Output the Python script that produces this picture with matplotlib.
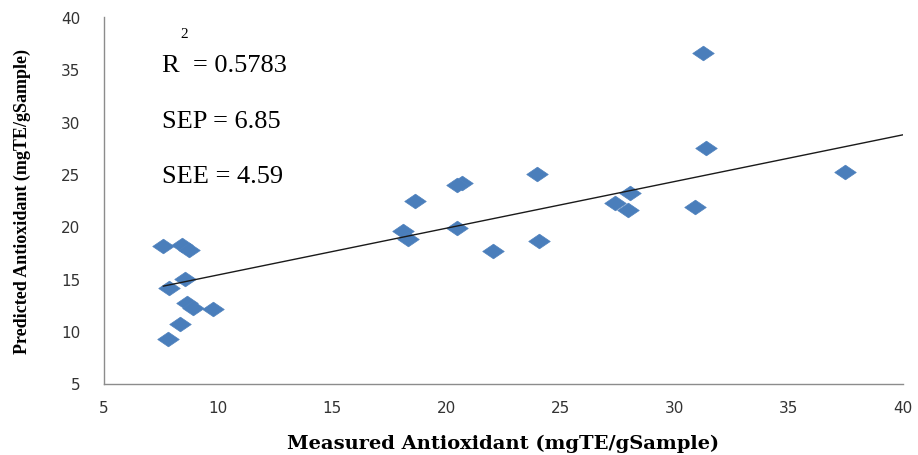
import numpy as np
import matplotlib
matplotlib.use("Agg")
import matplotlib.pyplot as plt

measured = [7.60, 8.40, 8.74, 8.55, 7.86, 8.62, 8.91, 9.79, 8.33, 7.82,
            23.95, 20.67, 20.45, 18.62, 18.11, 18.33, 20.45, 22.03, 24.07,
            31.25, 31.37, 37.46, 28.04, 27.38, 27.97, 30.89]
predicted = [18.13, 18.20, 17.75, 15.01, 14.15, 12.72, 12.24, 12.14, 10.64, 9.21,
             24.99, 24.19, 23.93, 22.43, 19.56, 18.77, 19.89, 17.65, 18.61,
             36.53, 27.50, 25.21, 23.24, 22.28, 21.54, 21.86]
trend_slope = 0.446
trend_intercept = 10.91
trend_x = [7.6, 40]
x_ticks = [5, 10, 15, 20, 25, 30, 35, 40]
y_ticks = [5, 10, 15, 20, 25, 30, 35, 40]
r2_text = "0.5783"
sep_text = "6.85"
see_text = "4.59"

fig = plt.figure(figsize=(9.18, 4.56), dpi=100)
ax = fig.add_axes([104/918, 1-384.5/456, (903-104)/918, (384.5-18)/456])

diamond = [(-1, 0), (0, 0.68), (1, 0), (0, -0.68), (-1, 0)]
ax.plot(measured, predicted, linestyle='none', marker=diamond, markersize=15.5,
        color='#4A7EBB', markeredgecolor='#4F81BD', markeredgewidth=0.5, zorder=3)

xl = np.array(trend_x)
ax.plot(xl, trend_slope * xl + trend_intercept, color='#1a1a1a', linewidth=1.0, zorder=4)

ax.set_xlim(5, 40)
ax.set_ylim(5, 40)
ax.set_xticks(x_ticks)
ax.set_yticks(y_ticks)
ax.tick_params(length=0, labelsize=11, colors='#333333')
for lab in ax.get_xticklabels() + ax.get_yticklabels():
    lab.set_family('DejaVu Sans')
ax.tick_params(axis='y', pad=17)
ax.tick_params(axis='x', pad=12)
for s in ['top', 'right']:
    ax.spines[s].set_visible(False)
for s in ['left', 'bottom']:
    ax.spines[s].set_color('#8c8c8c')
    ax.spines[s].set_linewidth(1.0)

fig.text(503/918, 1-444/456, "Measured Antioxidant (mgTE/gSample)", ha='center', va='center',
         family='DejaVu Serif', fontweight='bold', fontsize=14)
fig.text(22/918, 1-201/456, "Predicted Antioxidant (mgTE/gSample)", ha='center', va='center',
         rotation=90, family='Liberation Serif', fontweight='bold', fontsize=13)

tf = dict(family='Liberation Serif', fontsize=19, va='center', ha='left', color='black')
fig.text(162/918, 1-66/456, "R  = " + r2_text, **tf)
fig.text(180/918, 1-35/456, "2", family='Liberation Serif', fontsize=11, va='center', ha='left')
fig.text(162/918, 1-122/456, "SEP = " + sep_text, **tf)
fig.text(162/918, 1-177/456, "SEE = " + see_text, **tf)

fig.savefig("out.png", dpi=100)
